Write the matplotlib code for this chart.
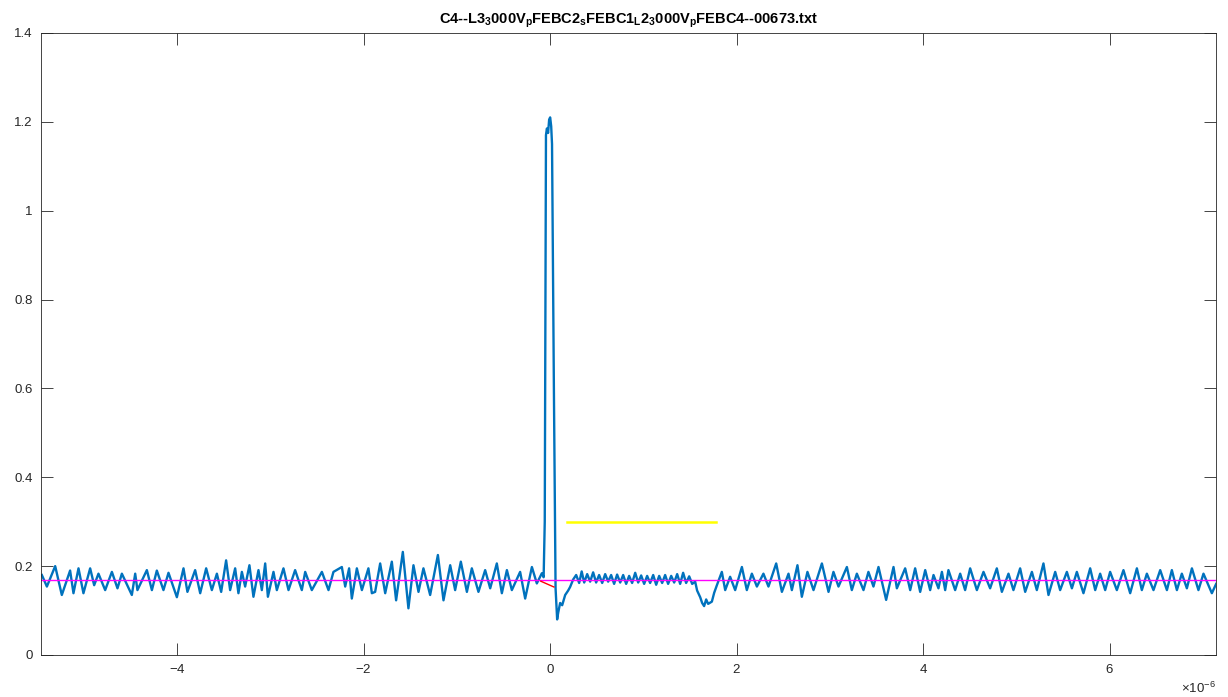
import matplotlib
matplotlib.use("Agg")
import matplotlib.pyplot as plt
from matplotlib.ticker import ScalarFormatter
import numpy as np

plt.rcParams['font.family'] = ['Liberation Sans', 'DejaVu Sans']
plt.rcParams['mathtext.fontset'] = 'custom'
plt.rcParams['mathtext.rm'] = 'Liberation Sans'
plt.rcParams['mathtext.bf'] = 'Liberation Sans:bold'
plt.rcParams['mathtext.it'] = 'Liberation Sans:italic'
plt.rcParams['axes.unicode_minus'] = False

# ---- data (time in microseconds, signal in volts) ----
t_us = [
    -5.451, -5.397, -5.308, -5.237, -5.148, -5.112, -5.058, -5.005, -4.933, -4.890,
    -4.844, -4.772, -4.700, -4.640, -4.593, -4.486, -4.450, -4.426, -4.325, -4.271,
    -4.218, -4.147, -4.093, -4.003, -3.932, -3.890, -3.807, -3.753, -3.689, -3.628,
    -3.574, -3.528, -3.475, -3.432, -3.378, -3.343, -3.306, -3.271, -3.225, -3.182,
    -3.128, -3.092, -3.056, -3.027, -2.967, -2.931, -2.860, -2.806, -2.735, -2.663,
    -2.627, -2.556, -2.448, -2.377, -2.324, -2.234, -2.198, -2.156, -2.127, -2.073,
    -2.019, -1.949, -1.912, -1.877, -1.823, -1.769, -1.698, -1.652, -1.580, -1.520,
    -1.466, -1.412, -1.359, -1.287, -1.204, -1.144, -1.072, -1.019, -0.958, -0.893,
    -0.840, -0.769, -0.697, -0.643, -0.572, -0.518, -0.464, -0.411, -0.322, -0.268,
    -0.196, -0.143, -0.089,
    -0.070, -0.058, -0.045, -0.035, -0.022, -0.011, 0.000, 0.011, 0.020, 0.040,
    0.058, 0.075, 0.086, 0.107, 0.129, 0.161, 0.193, 0.214, 0.247,
    0.279, 0.311, 0.338, 0.365, 0.397, 0.429, 0.461, 0.493, 0.525, 0.558,
    0.590, 0.622, 0.654, 0.686, 0.718, 0.751, 0.783, 0.815, 0.847, 0.879,
    0.912, 0.944, 0.976, 1.008, 1.040, 1.072, 1.105, 1.137, 1.169, 1.201,
    1.233, 1.265, 1.298, 1.330, 1.362, 1.394, 1.426, 1.458, 1.491, 1.523,
    1.555, 1.576, 1.609, 1.630, 1.651, 1.673, 1.694, 1.734, 1.759, 1.788,
    1.841, 1.877, 1.930, 1.984, 2.056, 2.109, 2.163, 2.217, 2.287, 2.341,
    2.424, 2.485, 2.556, 2.592, 2.652, 2.699, 2.759, 2.824, 2.914, 2.985,
    3.038, 3.092, 3.182, 3.235, 3.289, 3.360, 3.413, 3.467, 3.521, 3.603,
    3.682, 3.718, 3.807, 3.861, 3.914, 3.968, 4.022, 4.075, 4.111, 4.164,
    4.201, 4.236, 4.271, 4.343, 4.397, 4.450, 4.504, 4.576, 4.647, 4.718,
    4.790, 4.844, 4.915, 4.968, 5.040, 5.094, 5.166, 5.219, 5.290, 5.344,
    5.416, 5.469, 5.541, 5.595, 5.648, 5.719, 5.791, 5.845, 5.898, 5.952,
    6.005, 6.077, 6.148, 6.220, 6.292, 6.345, 6.399, 6.470, 6.542, 6.614,
    6.667, 6.721, 6.774, 6.828, 6.882, 6.952, 7.006, 7.096, 7.142,
]
signal_v = [
    0.180, 0.154, 0.200, 0.135, 0.190, 0.139, 0.195, 0.139, 0.195, 0.157,
    0.183, 0.146, 0.187, 0.150, 0.183, 0.135, 0.183, 0.146, 0.191, 0.146,
    0.190, 0.146, 0.185, 0.130, 0.195, 0.142, 0.191, 0.139, 0.195, 0.146,
    0.183, 0.142, 0.213, 0.146, 0.195, 0.139, 0.187, 0.154, 0.202, 0.131,
    0.191, 0.146, 0.206, 0.131, 0.187, 0.146, 0.195, 0.146, 0.191, 0.146,
    0.187, 0.146, 0.187, 0.146, 0.187, 0.198, 0.154, 0.195, 0.127, 0.195,
    0.146, 0.195, 0.139, 0.142, 0.206, 0.139, 0.210, 0.123, 0.232, 0.105,
    0.202, 0.142, 0.195, 0.135, 0.225, 0.123, 0.202, 0.146, 0.210, 0.142,
    0.195, 0.142, 0.191, 0.150, 0.206, 0.139, 0.191, 0.146, 0.187, 0.127,
    0.198, 0.161, 0.184,
    0.175, 0.300, 1.170, 1.185, 1.175, 1.205, 1.210, 1.190, 1.150, 0.600,
    0.150, 0.080, 0.095, 0.117, 0.112, 0.135, 0.145, 0.153, 0.170,
    0.180, 0.162, 0.188, 0.163, 0.182, 0.165, 0.186, 0.163, 0.180, 0.162,
    0.182, 0.165, 0.180, 0.160, 0.181, 0.163, 0.180, 0.160, 0.178, 0.162,
    0.185, 0.163, 0.179, 0.160, 0.178, 0.162, 0.180, 0.158, 0.178, 0.162,
    0.180, 0.160, 0.178, 0.163, 0.182, 0.160, 0.185, 0.162, 0.177, 0.160,
    0.165, 0.145, 0.130, 0.117, 0.110, 0.125, 0.115, 0.120, 0.140, 0.157,
    0.187, 0.146, 0.176, 0.146, 0.198, 0.146, 0.183, 0.154, 0.183, 0.154,
    0.206, 0.142, 0.183, 0.146, 0.202, 0.131, 0.187, 0.146, 0.206, 0.142,
    0.187, 0.154, 0.198, 0.146, 0.183, 0.146, 0.187, 0.154, 0.198, 0.124,
    0.198, 0.150, 0.195, 0.146, 0.195, 0.142, 0.191, 0.146, 0.180, 0.150,
    0.187, 0.146, 0.191, 0.146, 0.183, 0.146, 0.195, 0.146, 0.187, 0.150,
    0.195, 0.142, 0.183, 0.146, 0.195, 0.142, 0.187, 0.146, 0.206, 0.135,
    0.187, 0.146, 0.187, 0.150, 0.187, 0.139, 0.195, 0.146, 0.183, 0.146,
    0.187, 0.146, 0.191, 0.139, 0.195, 0.146, 0.183, 0.146, 0.191, 0.146,
    0.191, 0.146, 0.183, 0.150, 0.195, 0.146, 0.183, 0.139, 0.160,
]

baseline_v = 0.168                 # magenta level line
yellow_t_us = [0.18, 1.78]
yellow_v = [0.30, 0.30]
red_t_us = [-0.10, 0.04]
red_v = [0.166, 0.153]

x_limits_us = [-5.46, 7.14]
x_ticks_us = [-4, -2, 0, 2, 4, 6]
y_ticks = [0, 0.2, 0.4, 0.6, 0.8, 1.0, 1.2, 1.4]
y_tick_labels = ['0', '0.2', '0.4', '0.6', '0.8', '1', '1.2', '1.4']
title_text = (r"C4--L3$_\mathbf{3}$000V$_\mathbf{p}$FEBC2$_\mathbf{s}$FEBC1"
              r"$_\mathbf{L}$2$_\mathbf{3}$000V$_\mathbf{p}$FEBC4--00673.txt")

# ---- plot ----
US = 1e-6
fig = plt.figure(figsize=(12.28, 6.97), dpi=100)
ax = fig.add_axes([0.0334, 0.0603, 0.9568, 0.8924])

t_s = np.array(t_us) * US
ax.plot(t_s, signal_v, color=(0, 0.447, 0.741), lw=1.7, solid_joinstyle='round')
ax.plot(np.array(x_limits_us) * US, [baseline_v, baseline_v], color=(1, 0, 1), lw=1.0)
ax.plot(np.array(yellow_t_us) * US, yellow_v, color=(1, 1, 0), lw=1.8)
ax.plot(np.array(red_t_us) * US, red_v, color=(1, 0, 0), lw=1.0)

ax.set_xlim(x_limits_us[0] * US, x_limits_us[1] * US)
ax.set_ylim(0, 1.4)
ax.set_xticks(np.array(x_ticks_us) * US)
fmt = ScalarFormatter(useMathText=True)
ax.xaxis.set_major_formatter(fmt)
ax.set_yticks(y_ticks, y_tick_labels)

axcol = '#262626'
for s in ax.spines.values():
    s.set_color(axcol)
    s.set_linewidth(0.6)
ax.tick_params(direction='in', length=8.5, width=0.6, colors=axcol,
               labelsize=9.5, top=True, right=True, pad=6)
ax.xaxis.get_offset_text().set_fontsize(9.5)
ax.xaxis.get_offset_text().set_color(axcol)

ax.set_title(title_text, fontsize=10.5, fontweight='bold', pad=7)

fig.savefig("out.png", dpi=100)
